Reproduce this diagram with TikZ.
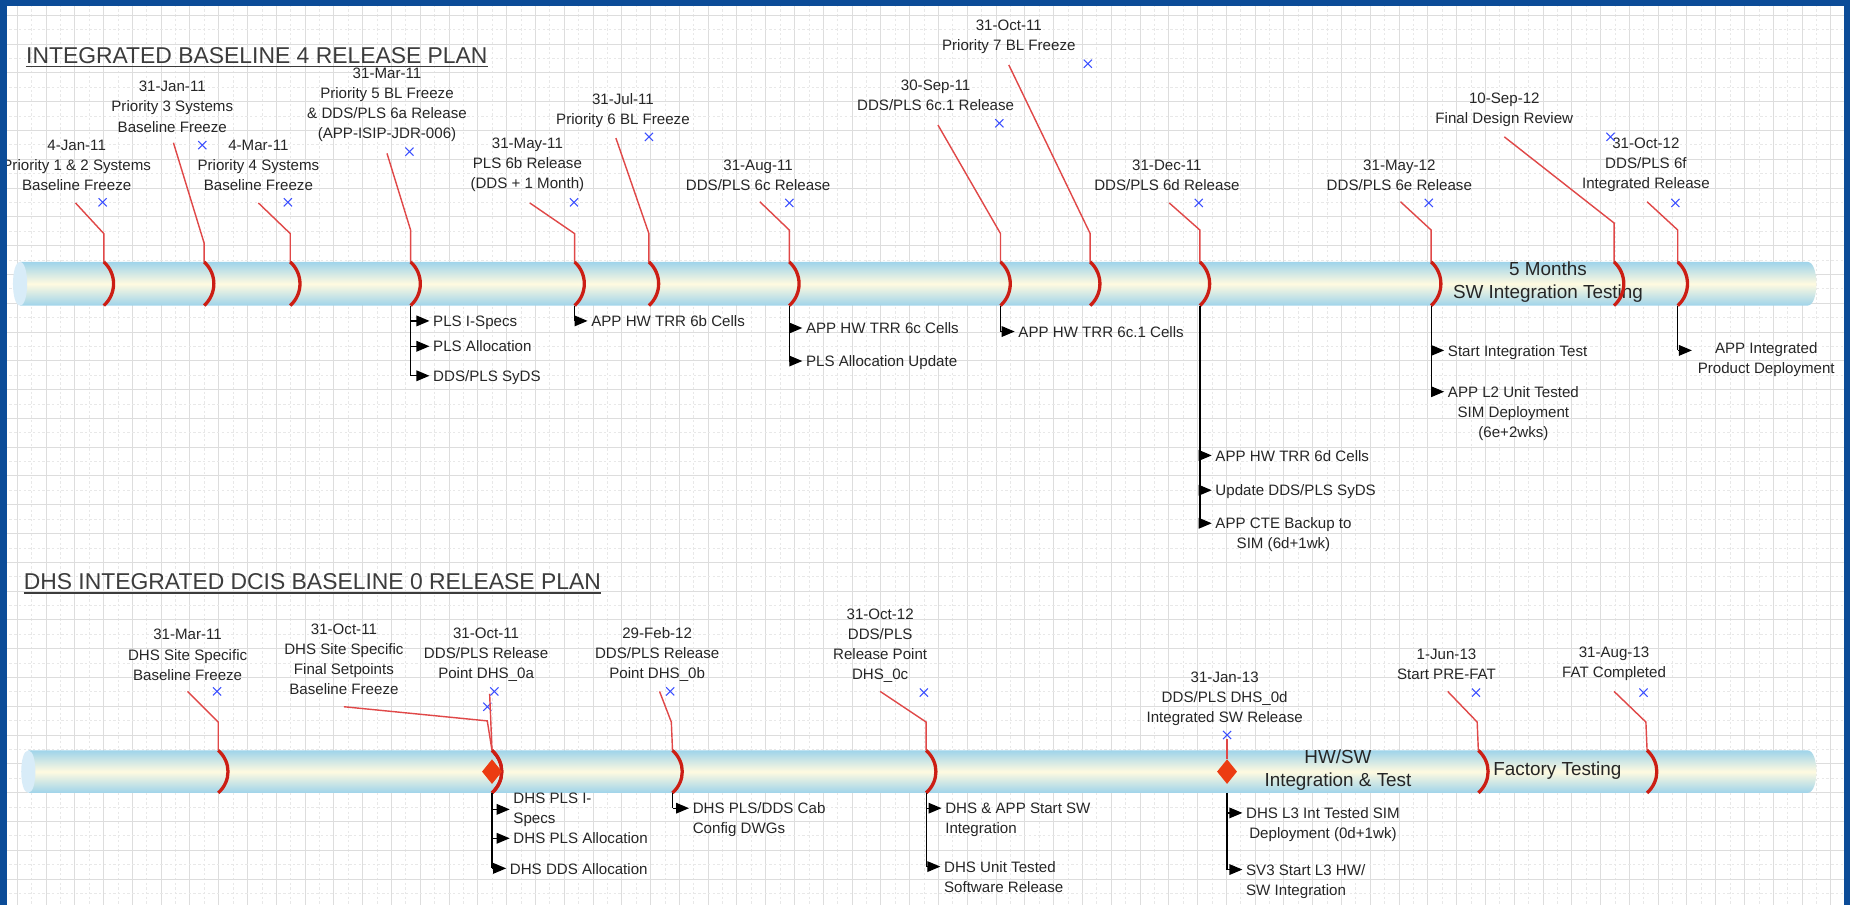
\documentclass[tikz,border=0pt]{standalone}
\usepackage{fontspec}
\setmainfont{Liberation Sans}
\usetikzlibrary{shapes.misc,shapes.geometric,arrows.meta,calc}
\definecolor{frameblue}{RGB}{12,76,152}
\definecolor{tubeblue}{RGB}{140,204,236}
\definecolor{tubecream}{RGB}{255,250,224}
\definecolor{tubeface}{RGB}{216,236,248}
\definecolor{brkred}{RGB}{204,30,20}
\definecolor{lnred}{RGB}{224,72,72}
\definecolor{xblue}{RGB}{60,80,255}
\definecolor{dmdred}{RGB}{236,60,18}
\definecolor{gridc}{RGB}{221,221,221}
\definecolor{gridd}{RGB}{232,232,232}
\definecolor{txtc}{RGB}{38,38,38}
\definecolor{ttlc}{RGB}{60,60,60}
\pgfdeclareverticalshading{tubeshade}{100bp}{color(0bp)=(tubeblue); color(20bp)=(tubeblue); color(50bp)=(tubecream); color(80bp)=(tubeblue); color(96bp)=(tubeblue); color(100bp)=(tubeblue!60!white)}
\newcommand{\lblfont}{\fontsize{12.8}{17}\selectfont}
\newcommand{\tubefont}{\fontsize{16}{19.5}\selectfont}
\newcommand{\ttlfont}{\fontsize{19.4}{22}\selectfont}
\newcommand{\mybrk}[3]{\draw[brk] (#1,#2) .. controls ({#1+11},{#2+10}) and ({#1+11},{#3-10}) .. (#1,#3);}
\newcommand{\mytube}[4]{%
 \shade[shading=tubeshade] (#1,#3) -- (#2,#3) .. controls ({#2+10},#3) and ({#2+10},#4) .. (#2,#4) -- (#1,#4) -- cycle;
 \fill[tubeface] (#1,#3) .. controls ({#1-8},#3) and ({#1-8},#4) .. (#1,#4) .. controls ({#1+8},#4) and ({#1+8},#3) .. (#1,#3) -- cycle;}
\newcommand{\itemarrow}[2]{\path ($(#1.north west)+(-3,4.7)$) coordinate (#1t); \draw[arr] (#1t -| #2) -- (#1t);}
\tikzset{
 lbl/.style={align=center, inner sep=0pt, font=\lblfont, text=txtc},
 itm/.style={inner sep=0pt, font=\lblfont, text=txtc, anchor=north west, align=left},
 itmc/.style={itm, align=center},
 brk/.style={brkred, line width=2.8pt},
 conn/.style={lnred, line width=1.2pt},
 vl/.style={black, line width=1pt},
 arr/.style={black, line width=1pt, -{Triangle[length=11pt,width=9pt]}},
 bx/.style={cross out, draw=xblue, minimum size=6pt, inner sep=0pt, line width=0.9pt},
 ttl/.style={inner sep=0pt, font=\ttlfont, text=ttlc, anchor=west},
 ttlline/.style={ttlc, line width=1.2pt},
 tubetxt/.style={align=center, inner sep=0pt, font=\tubefont, text=txtc},
 dmd/.style={diamond, fill=dmdred, minimum width=17pt, minimum height=21pt, inner sep=0pt},
 majorgrid/.style={gridc, line width=0.6pt},
 minorgrid/.style={gridd, line width=0.5pt, dash pattern=on 2pt off 2pt},
}
\begin{document}
\begin{tikzpicture}[x=1pt,y=-1pt]
\useasboundingbox (0,0) rectangle (1568,767);
\clip (0,0) rectangle (1568,767);
\fill[white] (0,0) rectangle (1568,767);
% grid
\foreach \i in {0,...,64} {
 \draw[minorgrid] ({26.7+24.4*\i},0) -- ++(0,767);
 \draw[majorgrid] ({14.5+24.4*\i},0) -- ++(0,767);}
\foreach \j in {0,...,31} {
 \draw[minorgrid] (0,{25.1+24.4*\j}) -- ++(1568,0);
 \draw[majorgrid] (0,{12.9+24.4*\j}) -- ++(1568,0);}

% titles
\node[ttl] (title1) at (22,47) {INTEGRATED BASELINE 4 RELEASE PLAN};
\draw[ttlline] ($(title1.south west)+(0,2.5)$) -- ($(title1.south east)+(0,2.5)$);
\node[ttl] (title2) at (20,493) {DHS INTEGRATED DCIS BASELINE 0 RELEASE PLAN};
\draw[ttlline] ($(title2.south west)+(0,2.5)$) -- ($(title2.south east)+(0,2.5)$);

% tubes
\mytube{17}{1532}{222}{259}
\mytube{24}{1532}{636}{672}
\node[tubetxt] (tt1) at (1312,239) {5 Months\\SW Integration Testing};
\node[tubetxt] (tt2) at (1134,653) {HW/SW\\Integration \& Test};
\node[tubetxt] (tt3) at (1320,653) {Factory Testing};

% top labels
\node[lbl] (T1) at (65,140) {4-Jan-11\\Priority 1 \& 2 Systems\\Baseline Freeze};
\node[lbl] (T2) at (146,90.5) {31-Jan-11\\Priority 3 Systems\\Baseline Freeze};
\node[lbl] (T3) at (219,140) {4-Mar-11\\Priority 4 Systems\\Baseline Freeze};
\node[lbl] (T4) at (328,89) {31-Mar-11\\Priority 5 BL Freeze\\\& DDS/PLS 6a Release\\(APP-ISIP-JDR-006)};
\node[lbl] (T5) at (447,140) {31-May-11\\PLS 6b Release\\(DDS + 1 Month)};
\node[lbl] (T6) at (528,93.5) {31-Jul-11\\Priority 6 BL Freeze};
\node[lbl] (T7) at (642.5,148.5) {31-Aug-11\\DDS/PLS 6c Release};
\node[lbl] (T8) at (793,81) {30-Sep-11\\DDS/PLS 6c.1 Release};
\node[lbl] (T9) at (855,31) {31-Oct-11\\Priority 7 BL Freeze};
\node[lbl] (T10) at (989,148.5) {31-Dec-11\\DDS/PLS 6d Release};
\node[lbl] (T11) at (1186,148.5) {31-May-12\\DDS/PLS 6e Release};
\node[lbl] (T12) at (1275,93) {10-Sep-12\\Final Design Review};
\node[lbl] (T13) at (1395,140) {31-Oct-12\\DDS/PLS 6f\\Integrated Release};

% top connectors, brackets, markers
\foreach \n/\bx/\ky/\ex/\ey/\mx/\my in {
 T1/88/198/64/172/87/171.5,
 T2/173/206/147/121/171.5/123,
 T3/246/198/219/172/244/171.5,
 T4/348/195/328/130/347/128.5,
 T5/487/198/449/172/486.5/171.5,
 T6/550/198/522/117/550/116,
 T7/669/195/644/171/669/172,
 T8/848/198/795/106/847/104.5,
 T9/924/198/855/55/922/54,
 T10/1017/195/991/172/1016/172,
 T11/1213/195/1187/171/1211/172,
 T12/1368/189/1275/116/1365/116,
 T13/1422/195/1396/171/1420/172}{
 \coordinate (\n-t) at (\bx,222);
 \coordinate (\n-b) at (\bx,259);
 \coordinate (\n-e) at (\ex,\ey);
 \draw[conn] (\n-e) -- (\bx,\ky) -- (\n-t);
 \mybrk{\bx}{222}{259}
 \node[bx] (\n-x) at (\mx,\my) {};
}

% bottom labels
\node[lbl] (B1) at (159,555) {31-Mar-11\\DHS Site Specific\\Baseline Freeze};
\node[lbl] (B2) at (291.5,559) {31-Oct-11\\DHS Site Specific\\Final Setpoints\\Baseline Freeze};
\node[lbl] (B3) at (412,555) {31-Oct-11\\DDS/PLS Release\\Point DHS\_0a};
\node[lbl] (B4) at (557,555) {29-Feb-12\\DDS/PLS Release\\Point DHS\_0b};
\node[lbl] (B5) at (746,547) {31-Oct-12\\DDS/PLS\\Release Point\\DHS\_0c};
\node[lbl] (B6) at (1038,592) {31-Jan-13\\DDS/PLS DHS\_0d\\Integrated SW Release};
\node[lbl] (B7) at (1226,563) {1-Jun-13\\Start PRE-FAT};
\node[lbl] (B8) at (1368,563) {31-Aug-13\\FAT Completed};

\foreach \n/\bx/\kx/\ky/\ex/\ey/\mx/\my in {
 B1/185/185/612/159/586/184/586,
 B2/417/413/611/291.5/599/413/599,
 B3/417/416/612/415/588/419/586,
 B4/570/569/612/559/586/568/586,
 B5/785/785/612/746/586/783/587,
 B7/1253/1252/612/1227/586/1251/587,
 B8/1396/1395/612/1368/586/1393/587}{
 \coordinate (\n-t) at (\bx,636);
 \coordinate (\n-b) at (\bx,672);
 \coordinate (\n-e) at (\ex,\ey);
 \draw[conn] (\n-e) -- (\kx,\ky) -- (\n-t);
 \mybrk{\bx}{636}{672}
 \node[bx] (\n-x) at (\mx,\my) {};
}
\node[dmd] (D1) at (417,654) {};
\node[dmd] (D2) at (1040,654) {};
\coordinate (B6-b) at (1040,672);
\node[bx] (B6-x) at (1040,623) {};
\draw[conn] (B6-x.south) -- (D2.north);

% items below top tube
\node[itm] (a4a) at (367,267.3) {PLS I-Specs};
\node[itm] (a4b) at (367,288.8) {PLS Allocation};
\node[itm] (a4c) at (367,313.8) {DDS/PLS SyDS};
\node[itm] (a5a) at (501,267.3) {APP HW TRR 6b Cells};
\node[itm] (a7a) at (683,273.3) {APP HW TRR 6c Cells};
\node[itm] (a7b) at (683,301.3) {PLS Allocation Update};
\node[itm] (a8a) at (863,276.3) {APP HW TRR 6c.1 Cells};
\node[itm] (a10a) at (1030,381.3) {APP HW TRR 6d Cells};
\node[itm] (a10b) at (1030,410.8) {Update DDS/PLS SyDS};
\node[itmc] (a10c) at (1030,438.8) {APP CTE Backup to\\SIM (6d+1wk)};
\node[itm] (a11a) at (1227,292.3) {Start Integration Test};
\node[itmc] (a11b) at (1227,327.3) {APP L2 Unit Tested\\SIM Deployment\\(6e+2wks)};
\node[itmc, anchor=north] (a13a) at (1497,290.3) {APP Integrated\\Product Deployment};
\coordinate (a13at) at (1434,297);

\foreach \a/\m in {a4a/T4-b,a4b/T4-b,a4c/T4-b,a5a/T5-b,a7a/T7-b,a7b/T7-b,a8a/T8-b,a10a/T10-b,a10b/T10-b,a10c/T10-b,a11a/T11-b,a11b/T11-b}{
 \itemarrow{\a}{\m}
}
\draw[arr] (a13at -| T13-b) -- (a13at);
\draw[vl] (T4-b) -- (a4ct -| T4-b);
\draw[vl] (T5-b) -- (a5at -| T5-b);
\draw[vl] (T7-b) -- (a7bt -| T7-b);
\draw[vl] (T8-b) -- (a8at -| T8-b);
\draw[vl] (T10-b) -- (a10ct -| T10-b);
\draw[vl] (T11-b) -- (a11bt -| T11-b);
\draw[vl] (T13-b) -- (a13at -| T13-b);

% items below bottom tube
\node[itm, anchor=west] (c3a) at (435,686) {DHS PLS I-\\Specs};
\node[itm] (c3b) at (435,705.8) {DHS PLS Allocation};
\node[itm] (c3c) at (432,731.3) {DHS DDS Allocation};
\node[itm] (c4a) at (587,680.3) {DHS PLS/DDS Cab\\Config DWGs};
\node[itm] (c5a) at (801,680.3) {DHS \& APP Start SW\\Integration};
\node[itm] (c5b) at (800,729.8) {DHS Unit Tested\\Software Release};
\node[itmc] (c6a) at (1056,684.3) {DHS L3 Int Tested SIM\\Deployment (0d+1wk)};
\node[itm] (c6b) at (1056,732.3) {SV3 Start L3 HW/\\SW Integration};

\path ($(c3a.west)+(-3,0)$) coordinate (c3at);
\draw[arr] (c3at -| B3-b) -- (c3at);
\foreach \a/\m in {c3b/B3-b,c3c/B3-b,c4a/B4-b,c5a/B5-b,c5b/B5-b,c6a/B6-b,c6b/B6-b}{
 \itemarrow{\a}{\m}
}
\draw[vl] (B3-b) -- (c3ct -| B3-b);
\draw[vl] (B4-b) -- (c4at -| B4-b);
\draw[vl] (B5-b) -- (c5bt -| B5-b);
\draw[vl] (B6-b) -- (c6bt -| B6-b);

% frame
\fill[frameblue] (0,0) rectangle (6,767);
\fill[frameblue] (0,0) rectangle (1568,5);
\fill[frameblue] (1563,0) rectangle (1568,767);
\end{tikzpicture}
\end{document}
